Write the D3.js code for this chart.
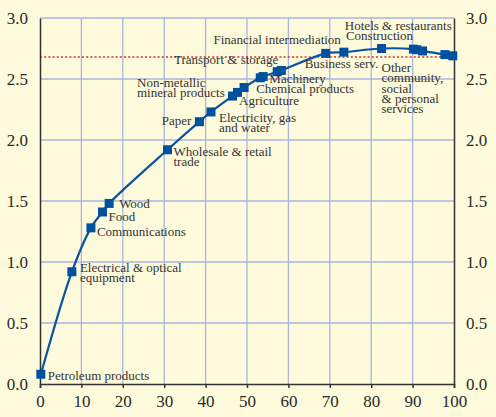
<!DOCTYPE html>
<html>
<head>
<meta charset="utf-8">
<script src="https://cdn.jsdelivr.net/npm/d3@7"></script>
<style>
html,body{margin:0;padding:0;background:#fefadc;}
svg{display:block;}
</style>
</head>
<body>
<svg id="chart" width="496" height="417"></svg>
<script>
// ---- data ----
const xValues = [0.2, 7.7, 12.3, 15.1, 16.7, 30.8, 38.5, 41.3, 46.5, 47.7, 49.3, 53.2, 53.9, 57.3, 58.3, 69.0, 73.4, 82.5, 90.2, 91.0, 92.4, 97.8, 99.7];
const yValues = [0.08, 0.92, 1.28, 1.41, 1.48, 1.92, 2.15, 2.23, 2.36, 2.39, 2.43, 2.51, 2.52, 2.56, 2.57, 2.71, 2.72, 2.75, 2.745, 2.74, 2.73, 2.70, 2.69];
const sectorLabels = [
  ["Petroleum products"],
  ["Electrical & optical", "equipment"],
  ["Communications"],
  ["Food"],
  ["Wood"],
  ["Wholesale & retail", "trade"],
  ["Paper"],
  ["Electricity, gas", "and water"],
  ["Non-metallic", "mineral products"],
  [],
  ["Agriculture"],
  [],
  ["Chemical products"],
  ["Transport & storage"],
  ["Machinery"],
  ["Business serv."],
  ["Financial intermediation"],
  ["Construction"],
  [],
  ["Hotels & restaurants"],
  ["Other", "community,", "social", "& personal", "services"],
  [],
  []
];
const averageValue = 2.68;
const xTicks = [0, 10, 20, 30, 40, 50, 60, 70, 80, 90, 100];
const yTicks = [0.0, 0.5, 1.0, 1.5, 2.0, 2.5, 3.0];

// ---- label layout (offsets from point, in px) ----
const labelLayout = [
  {dx: 7, dy: 6, anchor: "start"},
  {dx: 8, dy: 0, anchor: "start"},
  {dx: 6, dy: 8, anchor: "start"},
  {dx: 6, dy: 9, anchor: "start"},
  {dx: 10, dy: 5, anchor: "start"},
  {dx: 6, dy: 6, anchor: "start"},
  {dx: -8, dy: 3, anchor: "end"},
  {dx: 8, dy: 10, anchor: "start"},
  {dx: -95.5, dy: -9, anchor: "start"},
  null,
  {dx: -5, dy: 17, anchor: "start"},
  null,
  {dx: -7, dy: 16, anchor: "start"},
  {dx: 1, dy: -7.5, anchor: "end"},
  {dx: -12, dy: 12.5, anchor: "start"},
  {dx: -21, dy: 15, anchor: "start"},
  {dx: -3, dy: -8, anchor: "end"},
  {dx: -2, dy: -8.5, anchor: "middle"},
  null,
  {dx: 35, dy: -19.5, anchor: "end"},
  {dx: -41, dy: 21, anchor: "start"},
  null,
  null
];

// ---- chart ----
const svg = d3.select("#chart");
const W = 496, H = 417;
const mLeft = 40, mRight = 454, mTop = 18, mBottom = 384;
svg.append("rect").attr("width", W).attr("height", H).attr("fill", "#fefadc");

const x = d3.scaleLinear().domain([0, 100]).range([mLeft, mRight]);
const y = d3.scaleLinear().domain([0, 3]).range([mBottom, mTop]);

const font = "'Liberation Serif','Times New Roman',serif";
const gridColor = "#aab4e2";

// gridlines
const grid = svg.append("g");
grid.selectAll("line.v").data(xTicks.filter(t => t > 0 && t < 100)).join("line")
  .attr("class", "v")
  .attr("x1", d => x(d)).attr("x2", d => x(d)).attr("y1", mTop).attr("y2", mBottom)
  .attr("stroke", gridColor).attr("stroke-width", 1.3);
grid.selectAll("line.h").data(yTicks.filter(t => t > 0)).join("line")
  .attr("class", "h")
  .attr("x1", mLeft).attr("x2", mRight).attr("y1", d => y(d)).attr("y2", d => y(d))
  .attr("stroke", gridColor).attr("stroke-width", 1.3);

// average dotted line
svg.append("line")
  .attr("x1", mLeft).attr("x2", mRight).attr("y1", y(averageValue)).attr("y2", y(averageValue))
  .attr("stroke", "#c8342c").attr("stroke-width", 1.5).attr("stroke-dasharray", "2,2.2");

// axes
const xAxis = d3.axisBottom(x).tickValues(xTicks).tickSize(4).tickPadding(7).tickFormat(d3.format("d"));
const gx = svg.append("g").attr("transform", `translate(0,${mBottom})`).call(xAxis);
gx.select(".domain").attr("stroke", "#333").attr("stroke-width", 1.5);
gx.selectAll(".tick line").attr("stroke", "#333").attr("stroke-width", 1.5);
gx.selectAll(".tick text").attr("font-family", font).attr("font-size", 17).attr("fill", "#2a2a2a");

const yLeft = d3.axisLeft(y).tickValues(yTicks).tickSize(0).tickPadding(12).tickFormat(d3.format(".1f"));
const gyl = svg.append("g").attr("transform", `translate(${mLeft},0)`).call(yLeft);
gyl.select(".domain").attr("stroke", "#333").attr("stroke-width", 1.5);
gyl.selectAll(".tick text").attr("font-family", font).attr("font-size", 17).attr("fill", "#2a2a2a");

const yRight = d3.axisRight(y).tickValues(yTicks).tickSize(0).tickPadding(12).tickFormat(d3.format(".1f"));
const gyr = svg.append("g").attr("transform", `translate(${mRight},0)`).call(yRight);
gyr.select(".domain").attr("stroke", "#333").attr("stroke-width", 1.5);
gyr.selectAll(".tick text").attr("font-family", font).attr("font-size", 17).attr("fill", "#2a2a2a");

// line
const pts = xValues.map((v, i) => ({x: v, y: yValues[i], label: sectorLabels[i], layout: labelLayout[i]}));
const line = d3.line().x(d => x(d.x)).y(d => y(d.y)).curve(d3.curveCatmullRom.alpha(0.5));
svg.append("path").datum(pts).attr("d", line)
  .attr("fill", "none").attr("stroke", "#0a52a2").attr("stroke-width", 2.2);

// markers
const ms = 9;
svg.selectAll("rect.m").data(pts).join("rect")
  .attr("class", "m")
  .attr("x", d => x(d.x) - ms / 2).attr("y", d => y(d.y) - ms / 2)
  .attr("width", ms).attr("height", ms).attr("fill", "#0050a0");

// labels
const lg = svg.append("g").attr("font-family", font).attr("font-size", 13).attr("fill", "#333");
pts.forEach(p => {
  if (!p.layout || !p.label.length) return;
  const t = lg.append("text")
    .attr("x", x(p.x) + p.layout.dx)
    .attr("y", y(p.y) + p.layout.dy)
    .attr("text-anchor", p.layout.anchor);
  p.label.forEach((s, k) => {
    t.append("tspan").attr("x", x(p.x) + p.layout.dx).attr("dy", k === 0 ? 0 : 10.3).text(s);
  });
});
</script>
</body>
</html>
